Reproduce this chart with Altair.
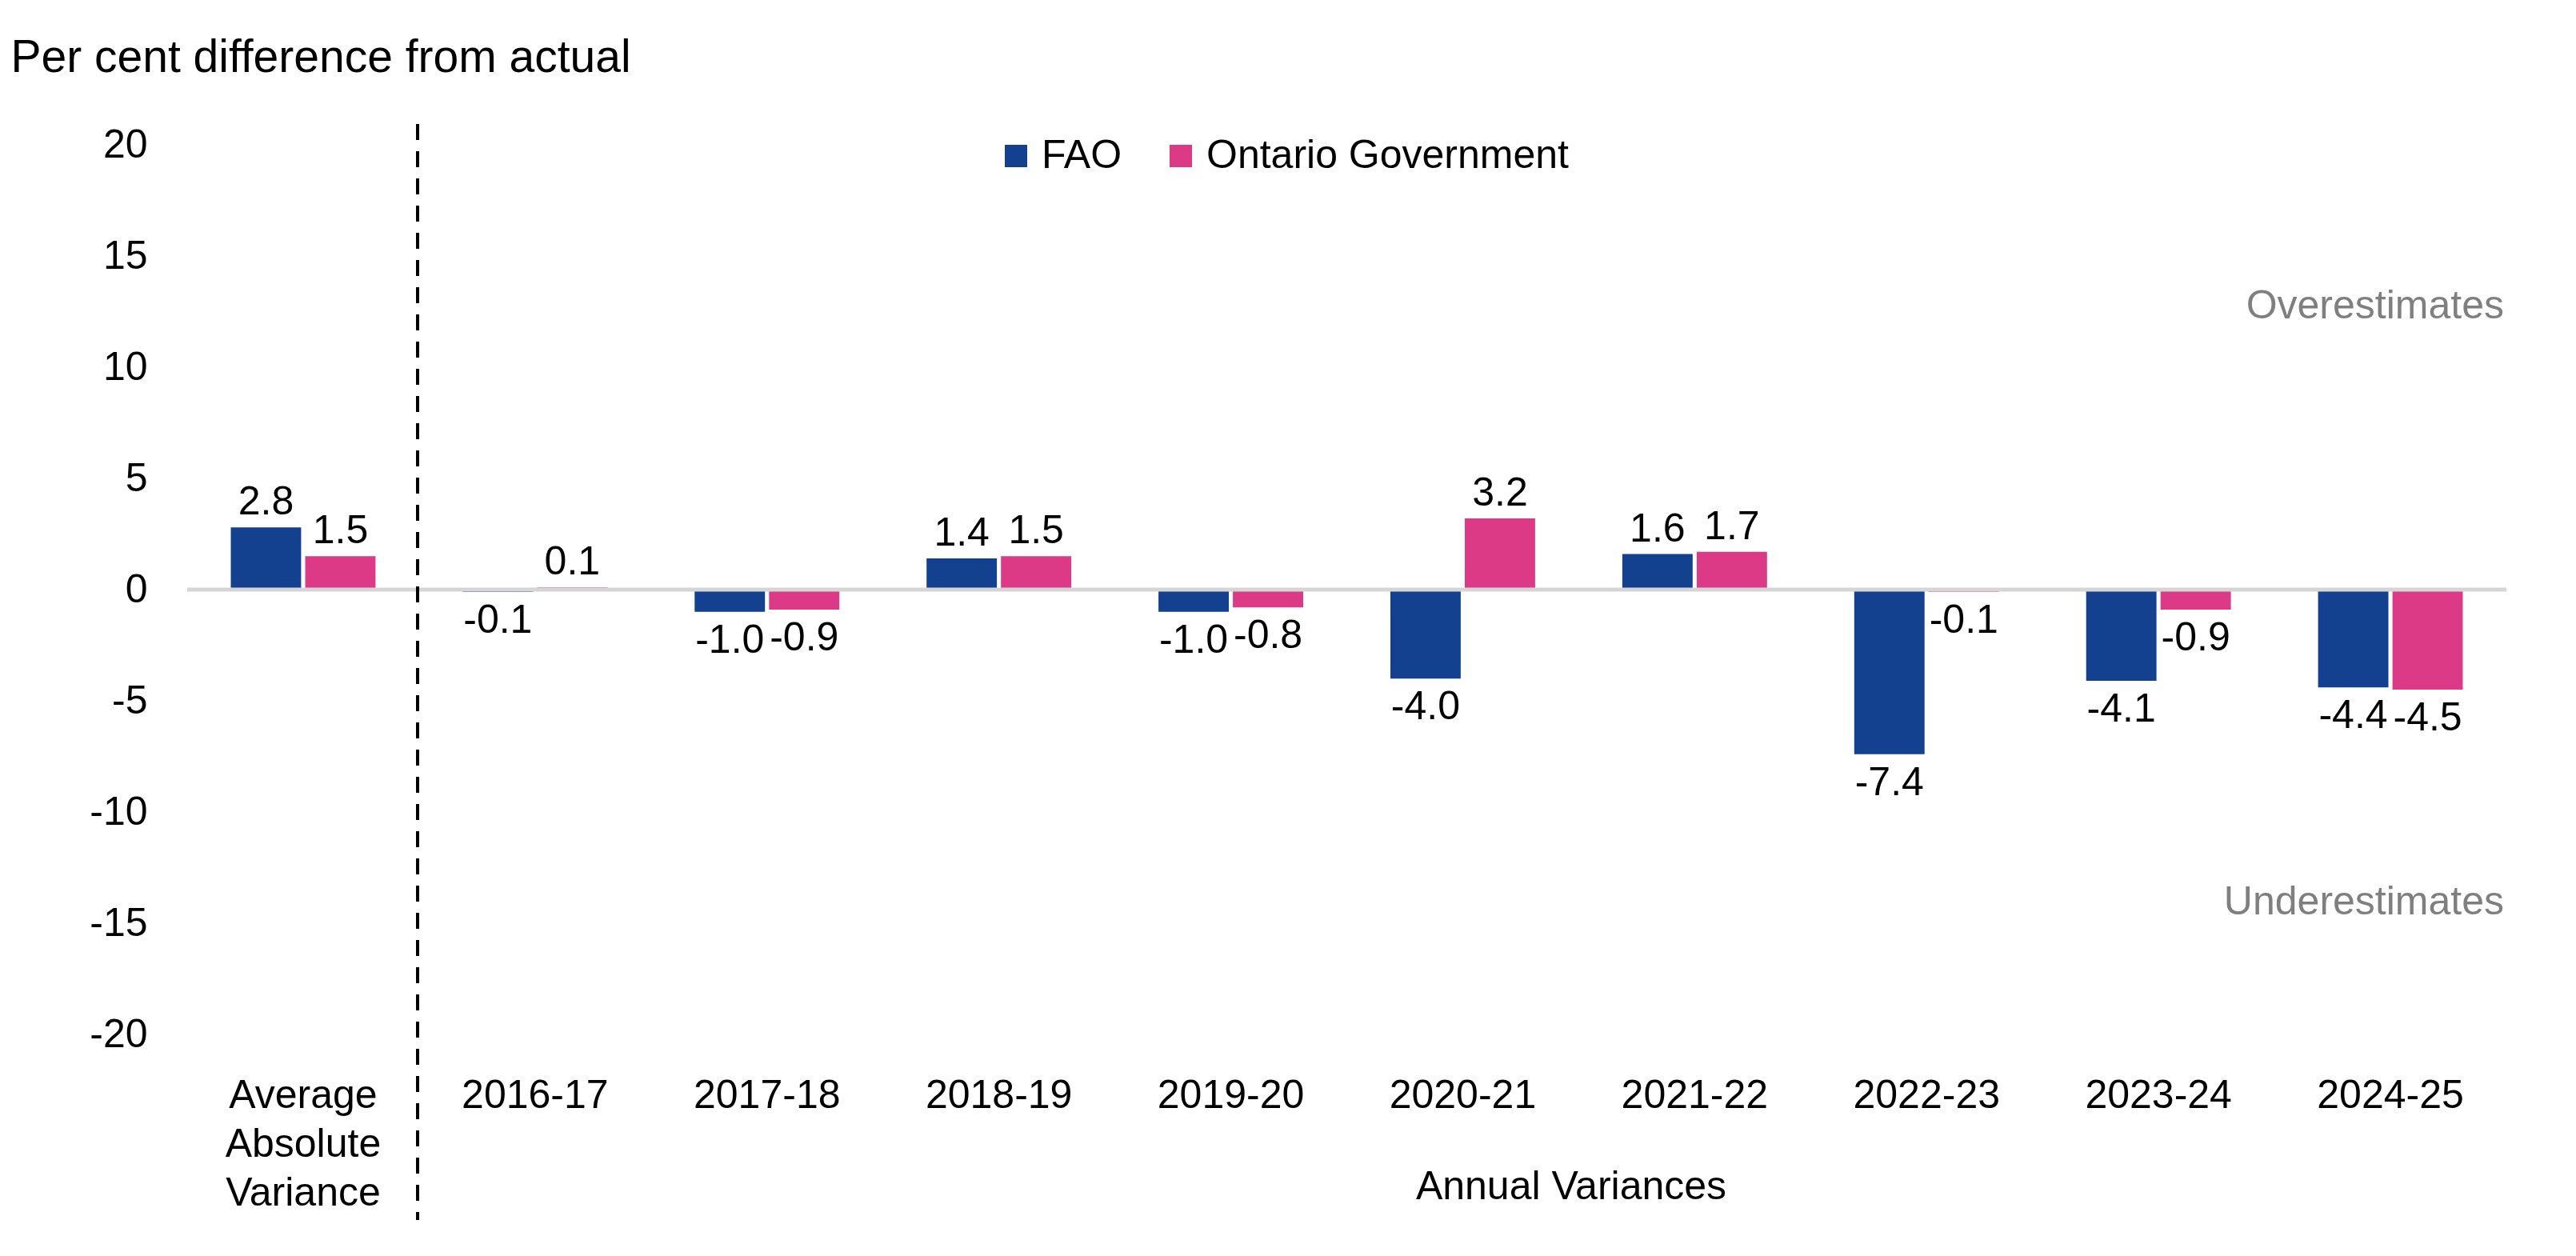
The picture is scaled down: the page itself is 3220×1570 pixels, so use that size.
import altair as alt
import pandas as pd

categories = ["Average Absolute Variance", "2016-17", "2017-18", "2018-19", "2019-20",
              "2020-21", "2021-22", "2022-23", "2023-24", "2024-25"]
series_names = ["FAO", "Ontario Government"]
fao_values = [2.8, -0.1, -1.0, 1.4, -1.0, -4.0, 1.6, -7.4, -4.1, -4.4]
ontario_values = [1.5, 0.1, -0.9, 1.5, -0.8, 3.2, 1.7, -0.1, -0.9, -4.5]
y_ticks = [-20, -15, -10, -5, 0, 5, 10, 15, 20]
colors = ["#13408F", "#DC3A87"]

FONT = "Liberation Sans"
FS = 50

rows = []
for c, f, o in zip(categories, fao_values, ontario_values):
    rows.append({"cat": c, "series": series_names[0], "value": f, "label": f"{f:.1f}"})
    rows.append({"cat": c, "series": series_names[1], "value": o, "label": f"{o:.1f}"})
df = pd.DataFrame(rows)

x_enc = alt.X("cat:N", sort=categories,
              scale=alt.Scale(paddingInner=0.376, paddingOuter=0.188),
              axis=alt.Axis(title=None, domain=False, ticks=False, labelAngle=0,
                            labelFontSize=FS, labelFont=FONT, labelColor="black",
                            labelPadding=51, labelBaseline="top", labelLineHeight=61,
                            labelLimit=0,
                            labelExpr="datum.value == 'Average Absolute Variance' ? ['Average','Absolute','Variance'] : datum.value",
                            labelOverlap=False, labelBound=False, labelFlush=False))
xo_enc = alt.XOffset("series:N", sort=series_names, scale=alt.Scale(paddingInner=0.055))
y_enc = alt.Y("value:Q", scale=alt.Scale(domain=[-20, 20], nice=False, zero=False),
              axis=alt.Axis(values=y_ticks, grid=False, domain=False, ticks=False,
                            labelFontSize=FS, labelFont=FONT, labelColor="black",
                            labelPadding=50, labelExpr="datum.value + ''", labelLimit=0,
                            title="Per cent difference from actual", titleAngle=0,
                            titleAlign="left", titleBaseline="alphabetic",
                            titleX=-221, titleY=-92, titleFontSize=57, titleLimit=0,
                            titleFont=FONT, titleFontWeight="normal", titleColor="black"))

base = alt.Chart(df)

bars = base.mark_bar().encode(
    x=x_enc, xOffset=xo_enc, y=y_enc,
    color=alt.Color("series:N", sort=series_names,
                    scale=alt.Scale(domain=series_names, range=colors),
                    legend=alt.Legend(title=None, orient="none", legendX=1011, legendY=-11,
                                      direction="horizontal", symbolType="square",
                                      symbolSize=784, symbolStrokeWidth=0,
                                      labelFontSize=FS, labelFont=FONT, labelColor="black",
                                      labelLimit=0,
                                      labelOffset=7, columnPadding=48, padding=0)),
)

pos_labels = base.transform_filter("datum.value >= 0").mark_text(
    baseline="alphabetic", dy=-16, fontSize=FS, font=FONT, color="black"
).encode(x=x_enc, xOffset=xo_enc, y=y_enc, text="label:N")

neg_labels = base.transform_filter("datum.value < 0").mark_text(
    baseline="top", dy=11, fontSize=FS, font=FONT, color="black"
).encode(x=x_enc, xOffset=xo_enc, y=y_enc, text="label:N")

zero_line = alt.Chart(pd.DataFrame({"z": [0]})).mark_rule(
    color="#D6D6D6", strokeWidth=5
).encode(y="z:Q")

divider = alt.Chart(pd.DataFrame({"d": [0]})).mark_rule(
    color="black", strokeWidth=4, strokeDash=[20, 14]
).encode(x=alt.value(288), y=alt.value(-26), y2=alt.value(1344))

over = alt.Chart(pd.DataFrame({"t": ["Overestimates"]})).mark_text(
    align="right", baseline="middle", fontSize=FS, font=FONT, color="#7F7F7F"
).encode(text="t:N", x=alt.value(2896), y=alt.value(202))
under = alt.Chart(pd.DataFrame({"t": ["Underestimates"]})).mark_text(
    align="right", baseline="middle", fontSize=FS, font=FONT, color="#7F7F7F"
).encode(text="t:N", x=alt.value(2896), y=alt.value(947))
annual = alt.Chart(pd.DataFrame({"t": ["Annual Variances"]})).mark_text(
    align="center", baseline="middle", fontSize=FS, font=FONT, color="black"
).encode(text="t:N", x=alt.value(1730), y=alt.value(1303))

chart = alt.layer(bars, zero_line, pos_labels, neg_labels, divider, over, under, annual).properties(
    width=2899, height=1112,
    autosize=alt.AutoSizeParams(type="none"),
    padding={"left": 226, "top": 173, "right": 70, "bottom": 250},
    background="white",
).configure_view(stroke=None)

chart.save("out.html", embed_options={"renderer": "svg", "actions": False})
